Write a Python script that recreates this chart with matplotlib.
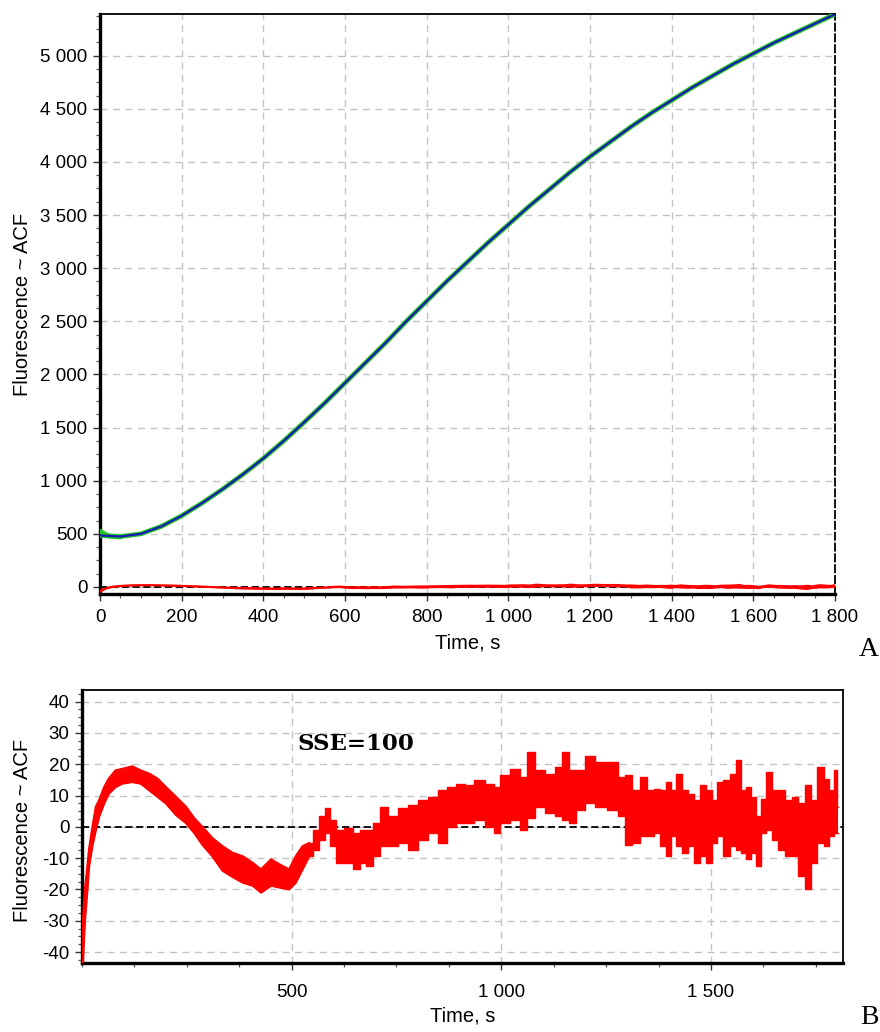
import matplotlib
matplotlib.use("Agg")
import matplotlib.pyplot as plt
from matplotlib.ticker import MultipleLocator, FuncFormatter, FixedLocator

plt.rcParams['font.family'] = ['Liberation Sans', 'DejaVu Sans']

# ---------------- data ----------------
# Panel A: fitted kinetic curve (fluorescence vs time)
fit_t = [0, 50, 100, 150, 200, 250, 300, 350, 400, 450, 500, 550, 600, 650,
         700, 750, 800, 850, 900, 950, 1000, 1050, 1100, 1150, 1200, 1250,
         1300, 1350, 1400, 1450, 1500, 1550, 1600, 1650, 1700, 1750, 1800]
fit_v = [485, 475, 500, 570, 670, 790, 920, 1060, 1210, 1375, 1550, 1730,
         1920, 2110, 2300, 2500, 2690, 2880, 3060, 3240, 3410, 3580, 3740,
         3900, 4050, 4190, 4330, 4460, 4580, 4700, 4810, 4920, 5020, 5120,
         5210, 5300, 5390]
# start of measured (green) data where it departs from fit
data_head_t = [0, 20, 50]
data_head_v = [525, 480, 470]

# Residuals (panel B) : upper / lower envelope of the noisy trace
res_t = [0, 2, 7, 13, 17, 25, 33, 41, 53, 64, 80, 96, 120, 140, 160, 180, 200,
         224, 248, 268, 287, 311, 335, 359, 383, 407, 427, 451, 471, 494, 510,
         526, 542, 558, 574, 586, 598, 614, 638, 654, 670, 685, 701, 721, 741,
         765, 789, 813, 837, 861, 881, 904, 924, 948, 972, 992, 1004, 1036,
         1052, 1069, 1092, 1115, 1139, 1153, 1171, 1187, 1211, 1235, 1267,
         1290, 1302, 1322, 1338, 1358, 1370, 1386, 1398, 1410, 1424, 1438,
         1454, 1464, 1482, 1496, 1509, 1521, 1537, 1553, 1565, 1577, 1589,
         1601, 1613, 1625, 1639, 1653, 1669, 1685, 1701, 1716, 1732, 1744,
         1762, 1776, 1788, 1798, 1804]
res_hi = [-42, -30, -20, -12.5, -7, 0, 6.4, 8.5, 12.7, 15.4, 18, 18.5, 19.3,
          18, 17, 15.4, 12.7, 9.6, 6.4, 2.7, 0, -3.6, -6.2, -8.3, -9.4, -11.5,
          -13.6, -10.4, -12, -13.6, -9.4, -6.2, -5.2, -1, 3.3, 5.9, 2.2, -1,
          -0.4, -2, -1, -1, 1.2, 6.4, 3.3, 5.9, 7, 8.5, 9.6, 11.7, 12.7, 13.8,
          13.3, 14.8, 13.8, 12.7, 16.4, 18.5, 15.8, 23.8, 18, 17, 19, 23.8, 18,
          18, 22.7, 20.6, 20.6, 15.8, 16.4, 11.7, 15.8, 11.7, 12.2, 11.7, 14.3,
          11.7, 17, 11.7, 10.6, 8.5, 13.3, 11.7, 8.5, 14.3, 14.8, 17, 21.2,
          11.7, 12.7, 9.6, 3.3, 9, 17.5, 11.7, 11.7, 8.5, 9.6, 7.5, 13.3, 8.5,
          19, 15.4, 11.7, 18, 6.4]
res_lo = [-43.5, -43.5, -30, -20, -12.5, -6, -1, 3.3, 7.5, 10.6, 12.7, 13.8,
          14.3, 13.8, 11.7, 9.6, 7.5, 3.8, 1.2, -2, -5.7, -9.4, -14, -16, -17.8,
          -18.8, -21, -18.8, -19.4, -20, -17.8, -13.6, -9.4, -7.3, -4.1, -2,
          -6.2, -11.5, -11.5, -13.6, -11.5, -12.5, -9.4, -6.2, -6.2, -5.2,
          -7.3, -4.1, -2, -5.2, 0, 1.2, 1.2, 2.2, 0, -2, 1.2, 2.2, -1, 2.7,
          6.4, 4.3, 3.3, 2.2, 1.2, 5.4, 7.5, 6.4, 5.4, 3.3, -5.7, -5.2, -3, -3,
          -2, -6.2, -9.4, -3, -6.2, -8.3, -6.2, -11.5, -9.4, -11.5, -5.2, -3,
          -9.4, -6.2, -7.3, -8.3, -10.4, -8.3, -12.5, -2, -1, -4.1, -7.3, -9.4,
          -9.4, -15.7, -20, -11.5, -5.2, -6.2, -3, -2, -2]

ticks_A_x = [0, 200, 400, 600, 800, 1000, 1200, 1400, 1600, 1800]
ticks_A_y = [0, 500, 1000, 1500, 2000, 2500, 3000, 3500, 4000, 4500, 5000]
ticks_B_x = [500, 1000, 1500]
ticks_B_y = [-40, -30, -20, -10, 0, 10, 20, 30, 40]

y_label = "Fluorescence ~ ACF"
x_label = "Time, s"
sse_text = "SSE=100"

# ---------------- style ----------------
RED = "#ff0000"
BLUE = "#1818b8"
GREEN = "#22c422"
GRID = "#c4c4c4"
TICK_FS = 13.5
LABEL_FS = 14.5
SMOOTH_N = 33   # first points (smooth part of the trace) drawn linearly


def fmt(v, pos):
    s = f"{int(round(v)):,}".replace(",", " ")
    return s


def style_axes(ax, right_dashed, pad):
    ax.set_facecolor("white")
    for side in ("left", "bottom"):
        ax.spines[side].set_linewidth(2.4)
        ax.spines[side].set_color("black")
    ax.spines["top"].set_linewidth(1.3)
    ax.spines["right"].set_linewidth(1.3)
    if right_dashed:
        ax.spines["right"].set_linestyle((0, (4, 2)))
    ax.tick_params(which="major", direction="out", length=5, width=1.0,
                   color="#333333", labelsize=TICK_FS)
    ax.tick_params(axis="y", which="major", pad=4)
    ax.tick_params(axis="x", which="major", pad=pad)
    ax.tick_params(which="minor", direction="out", length=3, width=0.9,
                   color="#555555")
    ax.tick_params(top=False, right=False, which="both")
    ax.grid(True, which="major", color=GRID, linestyle=(0, (5, 4)),
            linewidth=1.0)
    ax.set_axisbelow(True)
    ax.xaxis.set_major_formatter(FuncFormatter(fmt))
    ax.yaxis.set_major_formatter(FuncFormatter(fmt))


fig = plt.figure(figsize=(8.8, 10.32), dpi=100)

# ---------------- Panel A ----------------
ax1 = fig.add_axes([100 / 880, 1 - 594 / 1032, 735 / 880, 580 / 1032])
style_axes(ax1, right_dashed=True, pad=6)
ax1.set_xlim(0, 1800)
ax1.set_ylim(-66, 5392)
ax1.xaxis.set_major_locator(FixedLocator(ticks_A_x))
ax1.yaxis.set_major_locator(FixedLocator(ticks_A_y))
ax1.xaxis.set_minor_locator(MultipleLocator(50))
ax1.yaxis.set_minor_locator(MultipleLocator(125))
ax1.axhline(0, color="black", linestyle=(0, (4, 2)), linewidth=1.3, zorder=2)
ax1.plot(data_head_t, data_head_v, color=GREEN, linewidth=3.5, zorder=3,
         solid_capstyle="round")
ax1.plot(fit_t, fit_v, color=GREEN, linewidth=3.4, zorder=3)
ax1.plot(fit_t, fit_v, color=BLUE, linewidth=1.6, zorder=4)
ax1.fill_between(res_t, res_lo, res_hi, color=RED, linewidth=0, zorder=3)
ax1.plot(res_t, res_hi, color=RED, linewidth=1.2, zorder=3)
ax1.plot(res_t, res_lo, color=RED, linewidth=1.2, zorder=3)
ax1.set_xlabel(x_label, fontsize=LABEL_FS, labelpad=5)
fig.text(22 / 880, 1 - 304 / 1032, y_label, rotation=90, ha="center",
         va="center", fontsize=LABEL_FS)
fig.text(869 / 880, 1 - 650 / 1032, "A", ha="center", va="center",
         fontsize=20, family="Liberation Serif")

# ---------------- Panel B ----------------
ax2 = fig.add_axes([82 / 880, 1 - 963 / 1032, 761 / 880, 273 / 1032])
style_axes(ax2, right_dashed=False, pad=10)
ax2.set_xlim(0, 1815)
ax2.set_ylim(-43.5, 43.7)
ax2.xaxis.set_major_locator(FixedLocator(ticks_B_x))
ax2.yaxis.set_major_locator(FixedLocator(ticks_B_y))
ax2.xaxis.set_minor_locator(MultipleLocator(125))
ax2.yaxis.set_minor_locator(MultipleLocator(2.5))
ax2.axhline(0, color="black", linestyle=(0, (4, 2)), linewidth=1.3, zorder=2)
# smooth early part: linear envelope
t_a, hi_a, lo_a = res_t[:SMOOTH_N], res_hi[:SMOOTH_N], res_lo[:SMOOTH_N]
ax2.fill_between(t_a, lo_a, hi_a, color=RED, linewidth=0, zorder=3)
ax2.plot(t_a, hi_a, color=RED, linewidth=1.6, zorder=3)
ax2.plot(t_a, lo_a, color=RED, linewidth=1.6, zorder=3)
# noisy later part: spiky (stepped) envelope
t_b = res_t[SMOOTH_N - 1:]
hi_b = res_hi[SMOOTH_N - 1:]
lo_b = res_lo[SMOOTH_N - 1:]
ax2.fill_between(t_b, lo_b, hi_b, color=RED, linewidth=0, zorder=3,
                 step="mid")
ax2.plot(t_b, hi_b, color=RED, linewidth=1.0, zorder=3,
         drawstyle="steps-mid")
ax2.plot(t_b, lo_b, color=RED, linewidth=1.0, zorder=3,
         drawstyle="steps-mid")
ax2.set_xlabel(x_label, fontsize=LABEL_FS, labelpad=4)
ax2.text(513, 26.4, sse_text, ha="left", va="center", fontsize=16.5,
         fontweight="bold", family="DejaVu Serif", zorder=5)
fig.text(22 / 880, 1 - 830 / 1032, y_label, rotation=90, ha="center",
         va="center", fontsize=LABEL_FS)
fig.text(869 / 880, 1 - 1018 / 1032, "B", ha="center", va="center",
         fontsize=20, family="Liberation Serif")

fig.savefig("out.png", dpi=100, facecolor="white")
